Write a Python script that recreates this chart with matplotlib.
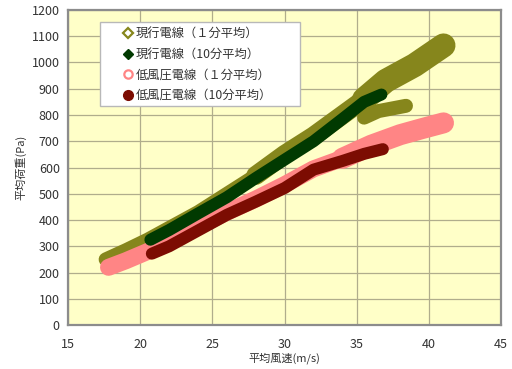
import matplotlib
matplotlib.use("Agg")
import matplotlib.pyplot as plt
from matplotlib.lines import Line2D
from matplotlib.patches import Rectangle

plt.rcParams['font.family'] = ['Noto Sans CJK JP', 'DejaVu Sans']

# 現行電線（１分平均）
cur1_x = [17.6, 19.0, 20.5, 22.0, 24.0, 26.0, 28.0, 30.0, 32.0, 34.0, 35.5, 37.0, 39.0, 41.0]
cur1_y = [250, 285, 325, 370, 430, 500, 570, 650, 720, 800, 860, 930, 990, 1065]
cur1_spur_x = [35.5, 36.5, 38.4]
cur1_spur_y = [790, 815, 835]
# 現行電線（10分平均）
cur10_x = [20.7, 22.0, 24.0, 26.0, 28.0, 30.0, 32.0, 34.0, 35.5, 36.7]
cur10_y = [325, 362, 425, 487, 560, 630, 700, 785, 850, 878]
# 低風圧電線（１分平均）
low1_x = [17.8, 19.0, 20.5, 22.0, 24.0, 26.0, 28.0, 30.0, 32.0, 34.0, 36.0, 38.0, 39.5, 41.0]
low1_y = [220, 245, 280, 320, 375, 430, 480, 535, 595, 635, 685, 725, 748, 770]
# 低風圧電線（10分平均）
low10_x = [20.8, 22.0, 24.0, 26.0, 28.0, 30.0, 32.0, 34.0, 35.5, 36.8]
low10_y = [272, 300, 360, 420, 470, 522, 592, 625, 652, 670]

labels = ['現行電線（１分平均）', '現行電線（10分平均）', '低風圧電線（１分平均）', '低風圧電線（10分平均）']
c_olive = '#86861c'
c_dgreen = '#013a01'
c_pink = '#ff8585'
c_dred = '#7c0c02'

fig = plt.figure(figsize=(5.12, 3.69), dpi=100)
ax = fig.add_axes([0.133, 0.119, 0.846, 0.854])
ax.set_facecolor('#ffffc8')

px = 72 / 100.0
kw = dict(solid_capstyle='round', solid_joinstyle='round')
ax.plot(cur1_x, cur1_y, color=c_olive, lw=14 * px, **kw, zorder=2)
ax.plot(cur1_x[6:], cur1_y[6:], color=c_olive, lw=19 * px, **kw, zorder=2)
ax.plot(cur1_x[10:], cur1_y[10:], color=c_olive, lw=24 * px, **kw, zorder=2)
ax.plot(cur1_spur_x, cur1_spur_y, color=c_olive, lw=14 * px, **kw, zorder=2)
ax.plot(low1_x, low1_y, color=c_pink, lw=17 * px, **kw, zorder=3)
ax.plot(low1_x[9:], low1_y[9:], color=c_pink, lw=21 * px, **kw, zorder=3)
ax.plot(cur10_x, cur10_y, color=c_dgreen, lw=12 * px, **kw, zorder=4)
ax.plot(low10_x, low10_y, color=c_dred, lw=12 * px, **kw, zorder=4)

ax.set_xlim(15, 45)
ax.set_ylim(0, 1200)
ax.set_xticks(range(15, 46, 5))
ax.set_yticks(range(0, 1201, 100))
ax.grid(True, color='#b0ad8c', lw=0.9)
ax.set_axisbelow(True)
ax.tick_params(length=0, labelsize=9, colors='#333333')
ax.tick_params(axis='x', pad=9)
ax.tick_params(axis='y', pad=6)
for s in ax.spines.values():
    s.set_color('#8c8c8c')
    s.set_linewidth(1.6)

ax.set_xlabel('平均風速(m/s)', fontsize=8, color='#333333', labelpad=1)
ax.set_ylabel('平均荷重(Pa)', fontsize=8, color='#333333', labelpad=4)

# legend box
ax.add_patch(Rectangle((0.0739, 0.695), 0.462, 0.267, transform=ax.transAxes,
                       facecolor='white', edgecolor='#b8b8b8', lw=1.0, zorder=9))

handles = [
    Line2D([], [], ls='none', marker='D', ms=5, mfc='white', mec=c_olive, mew=1.6),
    Line2D([], [], ls='none', marker='D', ms=5, mfc=c_dgreen, mec=c_dgreen),
    Line2D([], [], ls='none', marker='o', ms=6, mfc='white', mec=c_pink, mew=1.6),
    Line2D([], [], ls='none', marker='o', ms=7, mfc=c_dred, mec=c_dred),
]
leg = ax.legend(handles, labels, loc='upper left', bbox_to_anchor=(0.127, 0.945),
                fontsize=8.8, frameon=False, handlelength=0.8,
                handletextpad=0.2, labelspacing=0.62, borderpad=0,
                borderaxespad=0, labelcolor='#333333')
leg.set_zorder(10)

fig.savefig('out.png', dpi=100)
